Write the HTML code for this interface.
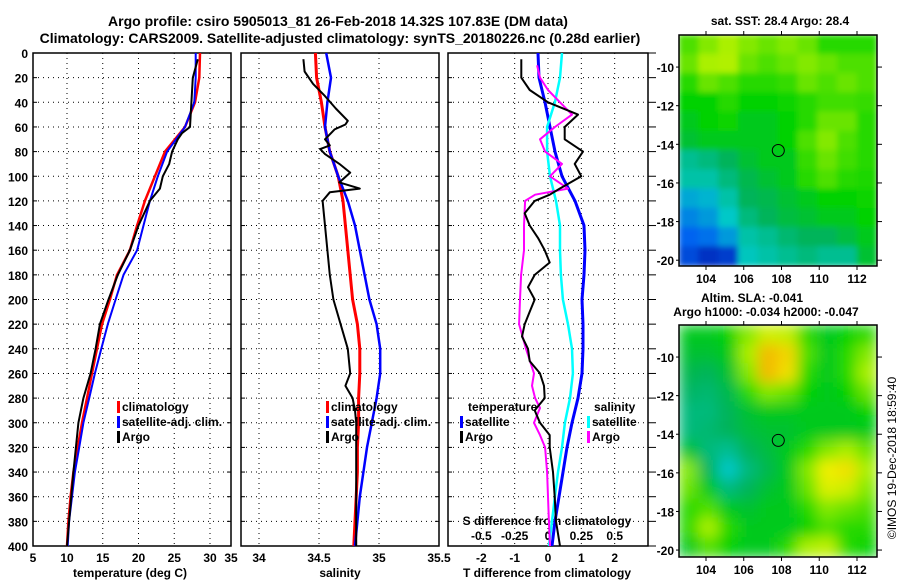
<!DOCTYPE html>
<html><head><meta charset="utf-8"><style>
html,body{margin:0;padding:0;background:#fff;}
svg{display:block;font-family:"Liberation Sans",sans-serif;font-weight:bold;}
</style></head><body>
<svg id="chart" width="900" height="580" viewBox="0 0 900 580" xmlns="http://www.w3.org/2000/svg">
<defs><filter id="blur" x="0" y="0" width="1" height="1"><feGaussianBlur stdDeviation="7"/></filter>
<filter id="blur2" x="0" y="0" width="1" height="1"><feGaussianBlur stdDeviation="3"/></filter>
<clipPath id="clipTop"><rect x="679" y="35" width="198" height="231"/></clipPath>
<clipPath id="clipBot"><rect x="679" y="325" width="198" height="232"/></clipPath></defs>
<text x="338" y="26" font-size="14" text-anchor="middle">Argo profile: csiro 5905013_81 26-Feb-2018 14.32S 107.83E (DM data)</text>
<text x="340" y="43" font-size="14" text-anchor="middle">Climatology: CARS2009. Satellite-adjusted climatology: synTS_20180226.nc (0.28d earlier)</text>
<g id="g"></g>
</svg>
<script>
// ---- data ----
const depths=[0,20,40,60,80,100,120,140,160,180,200,220,240,260,280,300,320,340,360,380,400];
const tempClim=[28.6,28.5,27.9,26.5,23.7,22.3,20.9,19.8,18.8,17.0,16.0,14.9,14.2,13.5,12.8,12.1,11.5,10.9,10.5,10.2,10.0];
const tempSat=[28.0,28.0,27.8,26.5,24.0,22.7,21.6,20.7,19.8,17.9,16.8,15.7,14.8,13.9,13.1,12.3,11.7,11.1,10.7,10.3,10.1];
const argoDepths=[5,20,30,40,50,60,65,70,80,90,100,110,120,140,160,180,200,220,240,260,280,300,340,380,400];
const tempArgo=[28.3,27.6,27.5,27.4,27.3,27.2,26.1,25.5,24.7,24.3,23.4,23.0,21.6,20.0,18.8,17.1,15.8,14.6,14.0,13.3,12.3,11.6,10.9,10.3,10.0];
const salClim=[34.47,34.48,34.52,34.55,34.59,34.66,34.70,34.72,34.74,34.76,34.78,34.82,34.84,34.84,34.83,34.83,34.82,34.82,34.81,34.80,34.79];
const salSat=[34.56,34.60,34.57,34.55,34.59,34.66,34.74,34.80,34.84,34.88,34.92,34.98,35.01,35.01,34.98,34.94,34.90,34.87,34.84,34.82,34.80];
const salArgoDepths=[5,15,25,35,45,55,58,62,70,75,78,82,90,97,105,110,113,120,140,160,180,200,220,240,260,270,280,290,300,340,380,400];
const salArgo=[34.37,34.38,34.45,34.55,34.64,34.74,34.72,34.63,34.55,34.59,34.51,34.55,34.67,34.76,34.67,34.84,34.59,34.53,34.55,34.57,34.59,34.62,34.68,34.74,34.76,34.72,34.78,34.80,34.81,34.81,34.81,34.81];
const dArgoDepths=[5,20,30,40,50,60,70,80,90,100,110,115,120,130,140,150,160,170,180,190,200,210,220,230,240,250,260,270,280,290,300,310,320,340,360,380,400];
const tDiffArgo=[-0.8,-0.8,-0.55,0,0.9,0.5,0.5,1.05,0.8,1.0,0.35,0.05,-0.4,-0.7,-0.55,-0.3,-0.1,0.05,-0.4,-0.6,-0.4,-0.55,-0.7,-0.78,-0.6,-0.55,-0.24,-0.12,-0.1,-0.4,-0.24,0.05,0.05,0.15,0.2,0.24,0.36];
const tDiffSat=[-0.3,-0.27,-0.09,0.06,0.21,0.42,0.81,1.08,1.11,1.08,1.02,1.05,1.05,1.02,0.9,0.72,0.57,0.45,0.33,0.21,0.12];
const sDiffSat=[0.105,0.09,0.052,-0.007,-0.007,0.015,0.06,0.09,0.09,0.097,0.112,0.15,0.18,0.187,0.165,0.127,0.105,0.075,0.052,0.03,0.007];
const sDiffArgoDepths=[10,20,30,40,50,60,70,80,90,100,110,115,120,140,160,180,200,220,240,260,270,280,288,300,310,320,340,360,380,400];
const sDiffArgo=[-0.082,-0.06,0,0.09,0.18,0.052,-0.06,-0.022,0.105,0.015,0.15,-0.097,-0.172,-0.18,-0.18,-0.202,-0.21,-0.217,-0.165,-0.105,-0.12,-0.097,-0.06,-0.105,-0.06,-0.022,-0.007,0,0.007,0.015];
const tempTicks=[10,15,20,25,30];
const tempEdgeLabels=["5","35"];
const salTicks=[34,34.5,35,35.5];
const tDiffTicks=[-2,-1,0,1,2];
const sDiffTicks=[-0.5,-0.25,0,0.25,0.5];
const depthTicks=[0,20,40,60,80,100,120,140,160,180,200,220,240,260,280,300,320,340,360,380,400];
const lonTicks=[104,106,108,110,112];
const latTicks=[-10,-12,-14,-16,-18,-20];
const sstGrid=[
[.58,.62,.65,.62,.6,.62,.6,.55,.55,.55],
[.6,.65,.66,.6,.58,.6,.62,.6,.58,.58],
[.55,.6,.58,.55,.55,.56,.6,.58,.6,.58],
[.52,.52,.55,.52,.52,.53,.55,.57,.57,.56],
[.5,.52,.53,.5,.5,.52,.55,.6,.6,.55],
[.48,.5,.5,.5,.5,.52,.58,.62,.58,.55],
[.4,.42,.45,.48,.5,.5,.56,.6,.57,.55],
[.38,.38,.42,.46,.48,.5,.55,.58,.55,.54],
[.3,.32,.38,.45,.46,.48,.5,.52,.52,.53],
[.25,.28,.35,.42,.45,.47,.48,.5,.5,.52],
[.2,.22,.28,.38,.4,.43,.45,.45,.47,.5],
[.15,.1,.12,.36,.38,.4,.42,.4,.4,.48]];
const slaGrid=[
[.5,.5,.52,.62,.7,.68,.55,.5,.52,.55],
[.48,.48,.5,.65,.85,.8,.58,.5,.55,.62],
[.46,.45,.48,.62,.85,.78,.55,.5,.55,.65],
[.44,.43,.46,.55,.62,.6,.52,.5,.52,.6],
[.42,.42,.45,.48,.5,.5,.5,.5,.5,.52],
[.42,.43,.45,.47,.48,.48,.5,.5,.5,.5],
[.48,.42,.4,.45,.47,.5,.55,.62,.65,.6],
[.62,.45,.35,.42,.46,.5,.62,.75,.78,.65],
[.6,.5,.42,.45,.48,.5,.6,.72,.7,.62],
[.55,.58,.5,.48,.5,.5,.55,.62,.6,.58],
[.55,.65,.55,.5,.5,.5,.52,.58,.55,.55],
[.5,.58,.52,.5,.5,.55,.65,.68,.55,.52]];
const argoLon=107.83, argoLat=-14.32;

// ---- helpers ----
const NS="http://www.w3.org/2000/svg";
const G=document.getElementById('g');
function mk(tag,at,parent){const e=document.createElementNS(NS,tag);for(const k in at)e.setAttribute(k,at[k]);(parent||G).appendChild(e);return e;}
function txt(x,y,s,size,anchor,name){const t=mk('text',{x:x,y:y,'font-size':size,'text-anchor':anchor});t.textContent=s;


return t;}
const Y0=53,Y1=546;
const yD=d=>Y0+(d/400)*(Y1-Y0);
const panels=[{x0:33,x1:231,v0:5.245,v1:32.937},{x0:241,x1:439,v0:33.85,v1:35.5},{x0:448,x1:648,v0:-3,v1:3}];
const xs=i=>v=>panels[i].x0+(v-panels[i].v0)/(panels[i].v1-panels[i].v0)*(panels[i].x1-panels[i].x0);
const xT=xs(0),xS=xs(1),xTD=xs(2);
const xSD=v=>xTD(v*4);
function line(xf,vals,ds,color,w,name){const p=vals.map((v,i)=>(i?'L':'M')+xf(v).toFixed(1)+','+yD(ds[i]).toFixed(1)).join('');
const e=mk('path',{d:p,fill:'none',stroke:color,'stroke-width':w,'stroke-linejoin':'round'});

}
function panelFrame(i,xf,ticks,name){const P=panels[i];
 ticks.forEach(t=>{const x=xf(t);if(x>P.x0+1&&x<P.x1-1)mk('line',{x1:x,y1:Y0,x2:x,y2:Y1,stroke:'#000','stroke-width':1,'stroke-dasharray':'1,4'});});
 depthTicks.forEach(d=>{const y=yD(d);if(d>0&&d<400)mk('line',{x1:P.x0,y1:y,x2:P.x1,y2:y,stroke:'#000','stroke-width':1,'stroke-dasharray':'1,4'});
  mk('line',{x1:P.x0,y1:y,x2:P.x0+4,y2:y,stroke:'#000'});mk('line',{x1:P.x1,y1:y,x2:P.x1+(i==2?8:-4),y2:y,stroke:'#000'});});
 const r=mk('rect',{x:P.x0,y:Y0,width:P.x1-P.x0,height:Y1-Y0,fill:'none',stroke:'#000','stroke-width':1.5});
 
 }
panelFrame(0,xT,tempTicks,'temperature-plot-area');
panelFrame(1,xS,salTicks,'salinity-plot-area');
panelFrame(2,xTD,tDiffTicks,'difference-plot-area');
depthTicks.forEach(d=>txt(28,yD(d)+5,String(d),12,'end','depth-tick-label'));
tempTicks.forEach(t=>txt(xT(t),562,String(t),12,'middle','temperature-tick-label'));
txt(33,562,tempEdgeLabels[0],12,'middle','temperature-tick-label');
txt(231,562,tempEdgeLabels[1],12,'middle','temperature-tick-label');
salTicks.forEach(t=>txt(xS(t),562,String(t),12,'middle','salinity-tick-label'));
tDiffTicks.forEach(t=>txt(xTD(t),562,String(t),12,'middle','t-diff-tick-label'));
sDiffTicks.forEach(t=>txt(xSD(t),540,String(t),12,'middle','s-diff-tick-label'));
txt(130,577,'temperature (deg C)',12,'middle','temperature-axis-title');
txt(340,577,'salinity',12,'middle','salinity-axis-title');
txt(547,577,'T difference from climatology',12,'middle','t-diff-axis-title');
txt(547,525,'S difference from climatology',12,'middle','s-diff-axis-title');
// series
line(xT,tempClim,depths,'#f00',2.5,'temperature-climatology-line');
line(xT,tempSat,depths,'#00f',2,'temperature-satellite-line');
line(xT,tempArgo,argoDepths,'#000',2,'temperature-argo-line');
line(xS,salClim,depths,'#f00',3,'salinity-climatology-line');
line(xS,salSat,depths,'#00f',2.5,'salinity-satellite-line');
line(xS,salArgo,salArgoDepths,'#000',2,'salinity-argo-line');
line(xTD,tDiffSat,depths,'#00f',3,'t-diff-satellite-line');
line(xSD,sDiffSat,depths,'#0ff',2.5,'s-diff-satellite-line');
line(xSD,sDiffArgo,sDiffArgoDepths,'#f0f',2,'s-diff-argo-line');
line(xTD,tDiffArgo,dArgoDepths,'#000',2,'t-diff-argo-line');
// legends
function leg(x,y,c,s,name){mk('rect',{x:x,y:y-10,width:3,height:12,fill:c});txt(x+5,y,s,12,'start',name);}
leg(117,411,'#f00','climatology','legend-climatology');leg(117,426,'#00f','satellite-adj. clim.','legend-satellite');leg(117,441,'#000','Argo','legend-argo');
leg(326,411,'#f00','climatology','legend-climatology-sal');leg(326,426,'#00f','satellite-adj. clim.','legend-satellite-sal');leg(326,441,'#000','Argo','legend-argo-sal');
txt(468,411,'temperature',12,'start','legend-temperature-header');
leg(460,426,'#00f','satellite','legend-t-satellite');leg(460,441,'#000','Argo','legend-t-argo');
txt(594,411,'salinity',12,'start','legend-salinity-header');
leg(587,426,'#0ff','satellite','legend-s-satellite');leg(587,441,'#f0f','Argo','legend-s-argo');
// maps
const stops=[[0,[0,0,150]],[.2,[0,100,240]],[.35,[0,200,200]],[.45,[0,180,90]],[.52,[0,210,0]],[.65,[170,240,0]],[.75,[240,240,0]],[.9,[245,160,0]],[1,[240,80,0]]];
function cmap(v){for(let i=1;i<stops.length;i++){if(v<=stops[i][0]){const a=stops[i-1],b=stops[i],t=(v-a[0])/(b[0]-a[0]);return 'rgb('+a[1].map((c,k)=>Math.round(c+(b[1][k]-c)*t)).join(',')+')';}}return 'rgb(240,80,0)';}
function map(grid,y0,y1,latTop,latBot,blur,clip,name){
 const x0=679,x1=877,lon0=102.57,lon1=113.06;
 const X=lo=>x0+(lo-lon0)/(lon1-lon0)*(x1-x0),Y=la=>y0+(latTop-la)/(latTop-latBot)*(y1-y0);
 const g=mk('g',{'clip-path':'url(#'+clip+')'});
 
 
 const inner=mk('g',{filter:'url(#'+blur+')'},g);
 mk('rect',{x:x0,y:y0,width:x1-x0,height:y1-y0,fill:cmap(.5)},inner);
 const R=grid.length,C=grid[0].length,cw=(x1-x0)/C,ch=(y1-y0)/R;
 grid.forEach((row,r)=>row.forEach((v,c)=>{const e=mk('rect',{x:(x0+c*cw-0.5).toFixed(1),y:(y0+r*ch-0.5).toFixed(1),width:(cw+1).toFixed(1),height:(ch+1).toFixed(1),fill:cmap(v)},inner);
 
 }));
 const m=mk('circle',{cx:X(argoLon),cy:Y(argoLat),r:6,fill:'none',stroke:'#000','stroke-width':1});
 
 
 mk('rect',{x:x0,y:y0,width:x1-x0,height:y1-y0,fill:'none',stroke:'#000','stroke-width':1.5});
 lonTicks.forEach(l=>{mk('line',{x1:X(l),y1:y0,x2:X(l),y2:y0-4,stroke:'#000'});mk('line',{x1:X(l),y1:y1,x2:X(l),y2:y1+4,stroke:'#000'});txt(X(l),y1+17,String(l),12,'middle','longitude-tick-label');});
 latTicks.forEach(l=>{mk('line',{x1:x1,y1:Y(l),x2:x1+5,y2:Y(l),stroke:'#000'});mk('line',{x1:x0,y1:Y(l),x2:x0-3,y2:Y(l),stroke:'#000'});txt(674,Y(l)+5,String(l),12,'end','latitude-tick-label');});
}
map(sstGrid,35,266,-8.34,-20.3,'blur2','clipTop','sst-map');
map(slaGrid,325,557,-8.34,-20.36,'blur','clipBot','sla-map');
txt(780,25,'sat. SST: 28.4 Argo: 28.4',12,'middle','sst-map-title');
txt(752,302,'Altim. SLA: -0.041',12,'middle','sla-map-title');
txt(766,316,'Argo h1000: -0.034 h2000: -0.047',12,'middle','sla-map-subtitle');
const cr=txt(0,0,'©IMOS 19-Dec-2018 18:59:40',12,'middle','credit-timestamp');
cr.setAttribute('font-weight','normal');
cr.setAttribute('transform','translate(896,458) rotate(-90)');
</script>
</body></html>
